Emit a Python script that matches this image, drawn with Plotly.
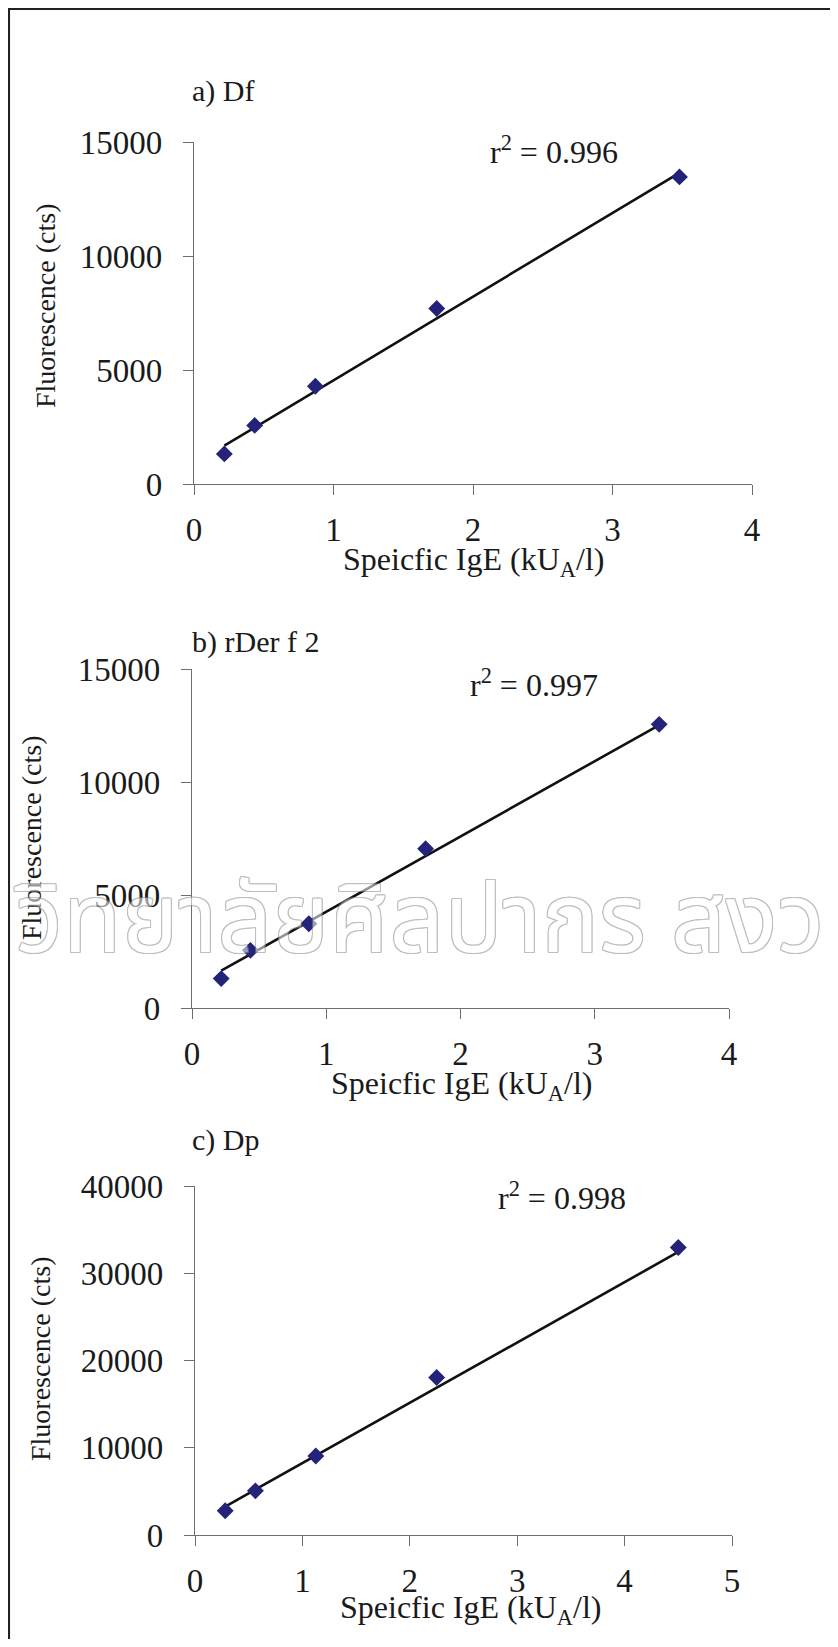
import plotly.graph_objects as go

# The page body keeps its default 8px margin, so the figure is 16px smaller
# than the window and every reference pixel is shifted by 8.
PAGE_W, PAGE_H = 838, 1647
OFF = 8
W, H = PAGE_W - 2 * OFF, PAGE_H - 2 * OFF

# ---------------- data ----------------
ige_df = [0.2175, 0.435, 0.87, 1.74, 3.48]
fluor_df = [1320, 2570, 4290, 7700, 13470]
trend_df_x = [0.2175, 3.48]
trend_df_y = [1680, 13650]

ige_der = [0.2175, 0.435, 0.87, 1.74, 3.48]
fluor_der = [1300, 2550, 3730, 7050, 12550]
trend_der_x = [0.2175, 3.48]
trend_der_y = [1650, 12520]

ige_dp = [0.28125, 0.5625, 1.125, 2.25, 4.5]
fluor_dp = [2780, 5060, 9060, 18050, 32950]
trend_dp_x = [0.28125, 4.5]
trend_dp_y = [3265, 32440]

panel_titles = ["a) Df", "b) rDer f 2", "c) Dp"]
r2_labels = ["0.996", "0.997", "0.998"]
x_ranges = [[0, 4], [0, 4], [0, 5]]
y_ranges = [[0, 15000], [0, 15000], [0, 40000]]
y_dticks = [5000, 5000, 10000]
x_title = "Speicfic IgE (kU<sub>A</sub>/l)"
y_title = "Fluorescence (cts)"
watermark = "วิทยาลัยศิลปากร สงวนลิขสิทธิ์"

# ---------------- layout geometry (reference pixels) ----------------
boxes = [(194, 752, 142, 484), (192, 729, 669, 1008), (195, 732, 1186, 1535)]
title_pos = [(190, 91), (190, 642), (190, 1140)]
r2_pos = [(488, 150), (468, 683), (496, 1196)]
xtitle_pos = [(473, 562), (461, 1085), (470, 1609)]
ytitle_pos = [(45, 306), (31, 838), (40, 1359)]

FONT = "Liberation Serif, Times New Roman, serif"
TXT = "#1a1a1a"
AX = "#6e6e6e"
NAVY = "#23237a"


def px(x):
    return (x - OFF) / W


def py(y):
    return 1 - (y - OFF) / H


series = [
    (ige_df, fluor_df, trend_df_x, trend_df_y),
    (ige_der, fluor_der, trend_der_x, trend_der_y),
    (ige_dp, fluor_dp, trend_dp_x, trend_dp_y),
]

fig = go.Figure()
annotations = []

for i, (xs, ys, tx, ty) in enumerate(series):
    n = "" if i == 0 else str(i + 1)
    xa, ya = "x" + n, "y" + n
    l, r, t, b = boxes[i]
    fig.add_trace(go.Scatter(
        x=tx, y=ty, mode="lines", line=dict(color="#111111", width=2.6),
        showlegend=False, xaxis=xa, yaxis=ya))
    fig.add_trace(go.Scatter(
        x=xs, y=ys, mode="markers",
        marker=dict(symbol="diamond", size=13, color=NAVY, line=dict(width=0)),
        showlegend=False, xaxis=xa, yaxis=ya))

    axis_common = dict(
        showline=True, linecolor=AX, linewidth=1.3,
        ticks="outside", ticklen=10, tickcolor=AX, tickwidth=1.3,
        showgrid=False, zeroline=False, automargin=False,
        tickfont=dict(family=FONT, size=33, color=TXT),
    )
    fig.update_layout(**{
        ("xaxis" + n): dict(domain=[px(l), px(r)], range=x_ranges[i], dtick=1,
                            anchor=ya, ticklabelstandoff=6, **axis_common),
        ("yaxis" + n): dict(domain=[py(b), py(t)], range=y_ranges[i], dtick=y_dticks[i],
                            tickformat="d", anchor=xa, ticklabelstandoff=14, **axis_common),
    })

    annotations.append(dict(
        text=panel_titles[i], x=px(title_pos[i][0]), y=py(title_pos[i][1]),
        xref="paper", yref="paper", xanchor="left", yanchor="middle",
        showarrow=False, font=dict(family=FONT, size=30, color=TXT)))
    annotations.append(dict(
        text="r<sup>2</sup> = " + r2_labels[i], x=px(r2_pos[i][0]), y=py(r2_pos[i][1]),
        xref="paper", yref="paper", xanchor="left", yanchor="middle",
        showarrow=False, font=dict(family=FONT, size=32, color=TXT)))
    annotations.append(dict(
        text=x_title, x=px(xtitle_pos[i][0]), y=py(xtitle_pos[i][1]),
        xref="paper", yref="paper", xanchor="center", yanchor="middle",
        showarrow=False, font=dict(family=FONT, size=32, color=TXT)))
    annotations.append(dict(
        text=y_title, x=px(ytitle_pos[i][0]), y=py(ytitle_pos[i][1]),
        xref="paper", yref="paper", xanchor="center", yanchor="middle",
        textangle=-90, showarrow=False, font=dict(family=FONT, size=28, color=TXT)))

# faint outlined watermark across panel b
outline = ", ".join(f"{dx}px {dy}px 0 #8a8a8a" for dx, dy in
                    [(1, 0), (-1, 0), (0, 1), (0, -1), (1, 1), (-1, -1), (1, -1), (-1, 1)])
annotations.append(dict(
    text=watermark, x=px(12), y=py(922), xref="paper", yref="paper",
    xanchor="left", yanchor="middle", showarrow=False, opacity=0.55,
    font=dict(family="Noto Sans Thai, Loma, Garuda, Noto Sans, sans-serif",
              size=96, color="white", shadow=outline)))

shapes = [
    dict(type="line", xref="paper", yref="paper", x0=px(8.8), x1=px(8.8), y0=py(8), y1=py(1700),
         line=dict(color="#222222", width=2.5)),
    dict(type="line", xref="paper", yref="paper", x0=px(8), x1=px(900), y0=py(8.8), y1=py(8.8),
         line=dict(color="#222222", width=2.5)),
]

fig.update_layout(
    width=W, height=H,
    margin=dict(l=0, r=0, t=0, b=0, autoexpand=False),
    paper_bgcolor="white", plot_bgcolor="rgba(0,0,0,0)",
    font=dict(family=FONT, color=TXT),
    annotations=annotations, shapes=shapes,
    showlegend=False,
)

fig.write_html("out.html", config={"displayModeBar": False})
